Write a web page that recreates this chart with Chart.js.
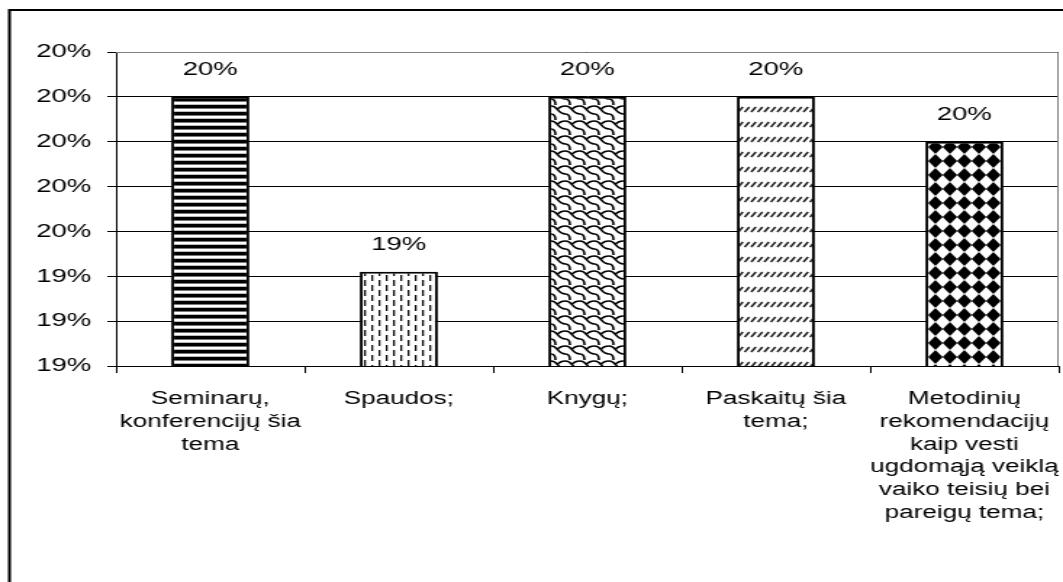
<!DOCTYPE html>
<html lang="lt">
<head>
<meta charset="utf-8">
<title>Šaltiniai</title>
<script src="https://cdn.jsdelivr.net/npm/chart.js@4.4.1/dist/chart.umd.min.js"></script>
<style>
  html, body { margin: 0; padding: 0; background: #fff; }
  /* the original picture is horizontally stretched, so the canvas is too */
  #chart { display: block; }
</style>
</head>
<body>
<canvas id="chart" width="733" height="582" style="width:1063px;height:582px"></canvas>
<script>
// --- data ---
const categories = [
  ['Seminarų,', 'konferencijų šia', 'tema'],
  ['Spaudos;'],
  ['Knygų;'],
  ['Paskaitų šia', 'tema;'],
  ['Metodinių', 'rekomendacijų', 'kaip vesti', 'ugdomąją veiklą', 'vaiko teisių bei', 'pareigų tema;']
];
const values = [0.1985, 0.1946, 0.1985, 0.1985, 0.1975];
const yTickValues = [0.1925, 0.1935, 0.1945, 0.1955, 0.1965, 0.1975, 0.1985, 0.1995];

const FONT = "'Liberation Sans', Arial, sans-serif";

/**
 * Процент без дробной части, как в Excel
 * @param {number} v
 * @returns {string}
 */
function pct(v) {
  return Math.round(v * 100) + '%';
}

const canvas = document.getElementById('chart');
const ctx = canvas.getContext('2d');

/**
 * Small repeating tile -> CanvasPattern
 */
function makePattern(w, h, draw) {
  const tile = document.createElement('canvas');
  tile.width = w;
  tile.height = h;
  const g = tile.getContext('2d');
  g.fillStyle = '#fff';
  g.fillRect(0, 0, w, h);
  draw(g, w, h);
  return ctx.createPattern(tile, 'repeat');
}

// horizontal stripes
const stripes = makePattern(4, 7, (g) => {
  g.fillStyle = '#000';
  g.fillRect(0, 0, 4, 3);
  g.fillStyle = '#777';
  g.fillRect(0, 3, 4, 1);
  g.fillStyle = '#bbb';
  g.fillRect(0, 6, 4, 1);
});

// staggered vertical dashes
const dashes = makePattern(10, 10, (g) => {
  g.fillStyle = '#111';
  g.fillRect(1, 0, 1.3, 6);
  g.fillRect(6, 5, 1.3, 5);
  g.fillRect(6, 0, 1.3, 1);
});

// wavy "scales"
const scales = makePattern(10, 15, (g) => {
  g.strokeStyle = '#000';
  g.lineWidth = 1.6;
  g.beginPath();
  g.moveTo(0, 1);
  g.bezierCurveTo(5, 1, 4, 9, 10, 9);
  g.moveTo(4, 5);
  g.quadraticCurveTo(6, 1, 10, 1);
  g.moveTo(0, 9);
  g.quadraticCurveTo(3, 9, 3, 15);
  g.stroke();
});

// short diagonal hatch
const hatch = makePattern(9, 15, (g) => {
  g.strokeStyle = '#222';
  g.lineWidth = 1.5;
  g.beginPath();
  for (const x of [0.5, 5]) {
    g.moveTo(x, 7);
    g.lineTo(x + 3.2, 2);
  }
  g.stroke();
});

// black diamonds (45° checker)
const diamonds = makePattern(10, 14, (g) => {
  g.fillStyle = '#000';
  g.beginPath();
  g.moveTo(5, 0);
  g.lineTo(10, 7);
  g.lineTo(5, 14);
  g.lineTo(0, 7);
  g.closePath();
  g.fill();
});

// белый фон + внешняя рамка
const framePlugin = {
  id: 'frame',
  beforeDraw(chart) {
    const c = chart.ctx;
    c.save();
    c.fillStyle = '#fff';
    c.fillRect(0, 0, chart.width, chart.height);
    c.strokeStyle = '#000';
    c.lineWidth = 2;
    c.strokeRect(6.5, 10, chart.width + 50, chart.height + 50);
    c.restore();
  },
  beforeDatasetsDraw(chart) {
    const { top, right } = chart.chartArea;
    const c = chart.ctx;
    c.save();
    c.strokeStyle = '#808080';
    c.lineWidth = 1;
    c.beginPath();
    c.moveTo(chart.chartArea.left, Math.floor(top) + 0.5);
    c.lineTo(Math.floor(right) - 0.5, Math.floor(top) + 0.5);
    c.lineTo(Math.floor(right) - 0.5, chart.chartArea.bottom);
    c.stroke();
    c.restore();
  }
};

// подписи значений над столбцами
const valueLabels = {
  id: 'valueLabels',
  afterDatasetsDraw(chart) {
    const c = chart.ctx;
    const meta = chart.getDatasetMeta(0);
    c.save();
    c.fillStyle = '#000';
    c.font = '19px ' + FONT;
    c.textAlign = 'center';
    c.textBaseline = 'middle';
    meta.data.forEach((bar, i) => {
      c.fillText(pct(values[i]), bar.x, bar.y - 27);
    });
    c.restore();
  }
};

new Chart(ctx, {
  type: 'bar',
  data: {
    labels: categories,
    datasets: [{
      data: values,
      backgroundColor: [stripes, dashes, scales, hatch, diamonds],
      borderColor: '#000',
      borderWidth: 2,
      borderSkipped: false,
      barPercentage: 0.414,
      categoryPercentage: 1
    }]
  },
  options: {
    responsive: false,
    devicePixelRatio: 1,
    animation: false,
    layout: { padding: { left: 0, right: 3, top: 52, bottom: 0 } },
    plugins: {
      legend: { display: false },
      tooltip: { enabled: false }
    },
    scales: {
      x: {
        offset: true,
        grid: { offset: true, drawOnChartArea: false, tickLength: 7, color: '#000' },
        border: { color: '#000', width: 1 },
        ticks: {
          color: '#000',
          font: { family: FONT, size: 18, lineHeight: 1.26 },
          padding: 15,
          maxRotation: 0,
          autoSkip: false
        },
        afterFit: (axis) => {
          axis.height = 216;
          // длинные подписи не должны сжимать область графика
          axis.paddingLeft = 0;
          axis.paddingRight = 0;
        }
      },
      y: {
        min: yTickValues[0],
        max: yTickValues[yTickValues.length - 1],
        afterBuildTicks: (axis) => {
          axis.ticks = yTickValues.map(v => ({ value: v }));
        },
        grid: { color: '#000', tickLength: 6 },
        border: { color: '#000', width: 1 },
        ticks: {
          color: '#000',
          font: { family: FONT, size: 19 },
          padding: 11,
          callback: (v) => pct(v)
        },
        afterFit: (axis) => {
          axis.width = 80;
          axis.paddingTop = 0;
          axis.paddingBottom = 0;
        }
      }
    }
  },
  plugins: [framePlugin, valueLabels]
});
</script>
</body>
</html>
